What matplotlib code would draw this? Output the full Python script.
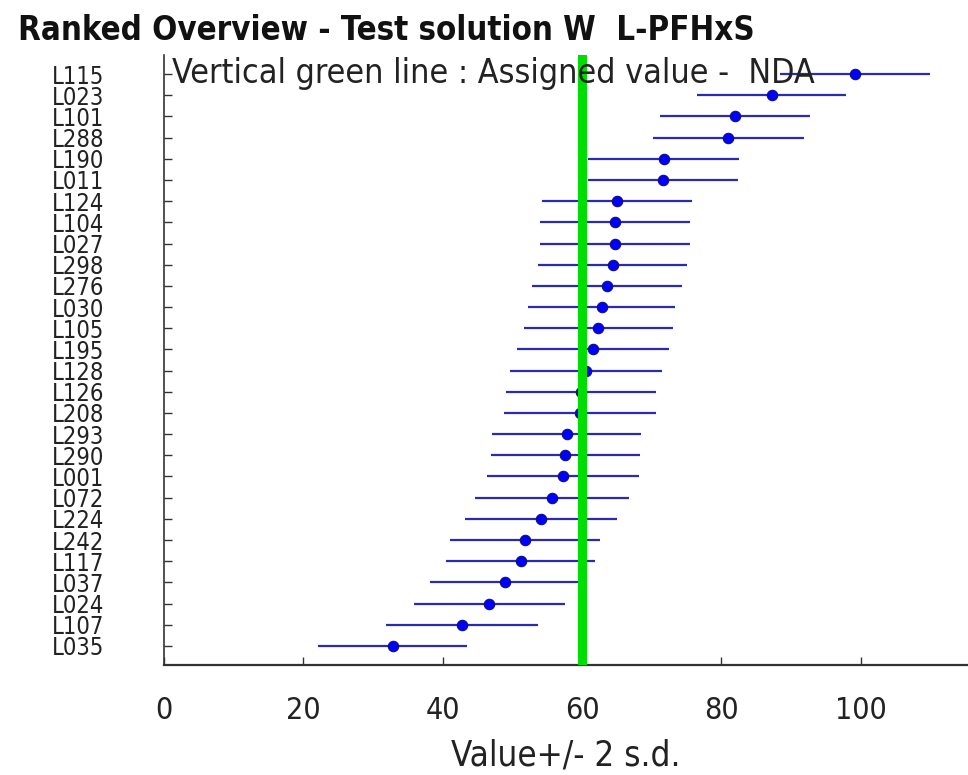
import matplotlib
matplotlib.use('Agg')
import matplotlib.pyplot as plt
from matplotlib import font_manager as fm

# labs ranked from top (highest) to bottom (lowest)
labs = ['L115', 'L023', 'L101', 'L288', 'L190', 'L011', 'L124', 'L104', 'L027', 'L298',
        'L276', 'L030', 'L105', 'L195', 'L128', 'L126', 'L208', 'L293', 'L290', 'L001',
        'L072', 'L224', 'L242', 'L117', 'L037', 'L024', 'L107', 'L035']
values = [99.2, 87.2, 82.0, 81.0, 71.7, 71.6, 65.0, 64.7, 64.7, 64.4,
          63.6, 62.8, 62.3, 61.6, 60.6, 59.8, 59.7, 57.8, 57.6, 57.3,
          55.7, 54.1, 51.8, 51.2, 48.9, 46.7, 42.8, 32.8]
two_sd = [10.8, 10.7, 10.75, 10.85, 10.8, 10.8, 10.75, 10.75, 10.75, 10.7,
          10.8, 10.6, 10.7, 10.9, 10.95, 10.75, 10.9, 10.7, 10.7, 10.9,
          11.0, 10.9, 10.75, 10.7, 10.65, 10.85, 10.9, 10.7]
assigned = 60.0
xticks = [0, 20, 40, 60, 80, 100]

# look for a narrow / condensed sans font, the original text is squeezed
found = []
for f in fm.fontManager.ttflist:
    fn = f.fname.lower()
    if ('narrow' in fn or 'condensed' in fn or f.stretch in ('condensed', 'semi-condensed')) \
            and 'mono' not in fn and 'serif' not in fn.replace('sans', '') and 'italic' not in fn \
            and f.style == 'normal':
        found.append(f)

reg = None
bold = None
for f in found:
    w = f.weight if isinstance(f.weight, int) else 400
    if reg is None and w < 500:
        reg = f
    if bold is None and w >= 600:
        bold = f
if reg is not None:
    fp = fm.FontProperties(fname=reg.fname)
    fpb = fm.FontProperties(fname=bold.fname) if bold is not None else fm.FontProperties(fname=reg.fname, weight='bold')
    sz = dict(title=23.7, note=24.4, ylab=17, xtick=21.8, xlab=25)
else:
    fp = fm.FontProperties(family='Liberation Sans')
    fpb = fm.FontProperties(family='Liberation Sans', weight='bold')
    sz = dict(title=24.6, note=25.5, ylab=15.6, xtick=22, xlab=24)

fig = plt.figure(figsize=(9.68, 7.75), dpi=100)
ax = fig.add_axes([164/968, 1 - 665/775, 1 - 164/968, (665 - 55)/775])

n = len(labs)
ypos = list(range(n, 0, -1))

ax.errorbar(values, ypos, xerr=two_sd, fmt='none', ecolor='#2a2ab4', elinewidth=1.6,
            capsize=0, zorder=2)
ax.plot(values, ypos, 'o', color='#0000ff', markeredgecolor='#10107a',
        markersize=7.5, markeredgewidth=0.8, zorder=3)
ax.axvline(assigned, color='#00dd00', linewidth=6.5, zorder=4)

ax.set_xlim(0, 115.4)
ax.set_ylim(0.1, n + 0.9)
ax.set_yticks(ypos)
ax.set_yticklabels(labs)
ax.set_xticks(xticks)

for s in ['top', 'right']:
    ax.spines[s].set_visible(False)
ax.spines['bottom'].set_linewidth(1.6)
ax.spines['bottom'].set_color('#333333')
ax.spines['left'].set_linewidth(1.2)
ax.spines['left'].set_color('#333333')

ax.tick_params(axis='y', direction='in', length=6, width=1, color='#333333', pad=43)
ax.tick_params(axis='x', direction='in', length=6, width=1, color='#333333', pad=22)
for t in ax.get_yticklabels():
    t.set_fontproperties(fp)
    t.set_fontsize(sz['ylab'])
    t.set_color('#222222')
for t in ax.get_xticklabels():
    t.set_fontproperties(fp)
    t.set_fontsize(sz['xtick'])
    t.set_color('#222222')

ax.set_xlabel('Value+/- 2 s.d.', fontproperties=fp, fontsize=sz['xlab'], labelpad=10,
              color='#222222')

ax.text(1.1, 28.05, 'Vertical green line : Assigned value -  NDA', fontproperties=fp,
        fontsize=sz['note'], ha='left', va='center', color='#222222', zorder=5)

fig.text(18/968, 1 - 30/775, 'Ranked Overview - Test solution W  L-PFHxS',
         fontproperties=fpb, fontsize=sz['title'], ha='left', va='center', color='#111111')

fig.savefig('out.png', dpi=100)
